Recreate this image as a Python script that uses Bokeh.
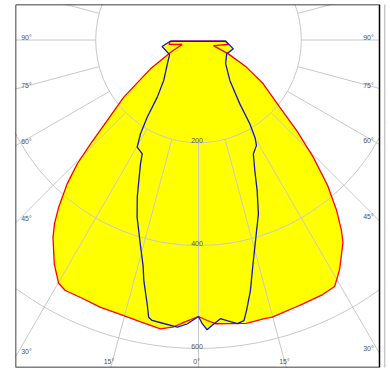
import math
from bokeh.plotting import figure
from bokeh.models import Range1d, ColumnDataSource
from bokeh.core.properties import value
from bokeh.embed import file_html
from bokeh.resources import INLINE

# ---- data: luminous intensity (cd) vs angle (deg, negative = left half) ----
red_angles = [-87.5, -81.4, -74.6, -66.9, -59.0, -52.6, -48.6, -46.1, -44.4, -42.4,
              -39.9, -38.1, -36.4, -32.8, -29.9, -28.0, -24.6, -20.1, -15.9, -11.6,
              -7.5, -4.9, -3.0, 0.0,
              1.8, 3.4, 6.3, 9.6, 13.1, 14.9, 17.3, 19.9, 21.6, 26.0, 28.9, 31.6,
              35.5, 36.9, 39.0, 41.6, 44.4, 47.3, 50.4, 55.9, 60.5, 65.1, 69.5, 81.5, 87.5]
red_cd = [55, 58, 33, 56, 109, 183, 237, 291, 337, 379,
          424, 454, 477, 518, 546, 552, 551, 554, 555, 560,
          567, 560, 550, 538,
          546, 553, 555, 559, 557, 558, 555, 553, 552, 551, 548, 524,
          484, 463, 427, 378, 319, 260, 205, 152, 107, 64, 31, 59, 53]

blue_angles = [-87.5, -79.8, -63.2, -52.7, -40.6, -35.8, -33.6, -31.7, -29.8, -26.3,
               -25.1, -23.0, -21.3, -19.1, -15.8, -13.8, -12.8, -10.9, -10.2, -9.4,
               -7.6, -4.2, -2.3, 0.0,
               0.75, 1.7, 2.7, 4.5, 5.8, 7.8, 9.2, 10.1, 11.7, 13.7, 16.2, 19.0,
               21.3, 23.3, 25.7, 28.8, 30.1, 31.5, 32.9, 37.7, 48.9, 63.8, 75.8, 87.5]
blue_cd = [55, 72, 63, 76, 104, 137, 180, 215, 240, 247,
           266, 297, 328, 365, 415, 452, 480, 526, 548, 553,
           555, 560, 553, 538,
           552, 564, 556, 544, 549, 557, 553, 534, 498, 448, 400, 358,
           314, 277, 246, 234, 219, 191, 148, 100, 70, 61, 70, 53]

ring_values = [200, 400, 600]
ring_labels = ["200", "400", "600"]
spoke_angles = [-105, -90, -75, -60, -45, -30, -15, 0, 15, 30, 45, 60, 75, 90, 105]
side_label_angles = [90, 75, 60, 45, 30]
bottom_label_angles = [-15, 0, 15]


def to_xy(angles, cds):
    xs = [c * math.sin(math.radians(a)) for a, c in zip(angles, cds)]
    ys = [-c * math.cos(math.radians(a)) for a, c in zip(angles, cds)]
    return xs, ys


K = 0.514                   # px per cd
X0, X1 = -356.0, 352.1      # diagram box (cd)
Y0, Y1 = -637.2, 69.1
XR = X1 + 7.0 / K           # frame extends a little past the box on the right

p = figure(width=388, height=370, x_range=Range1d(X0, XR), y_range=Range1d(Y0, Y1),
           output_backend="svg", toolbar_location=None,
           x_axis_type=None, y_axis_type=None,
           min_border_left=15, min_border_right=2, min_border_top=4, min_border_bottom=3)
p.grid.visible = False
p.outline_line_color = None
p.background_fill_color = "white"
p.border_fill_color = "white"

rx, ry = to_xy(red_angles, red_cd)
bx, by = to_xy(blue_angles, blue_cd)

# yellow fill
p.patch(bx, by, fill_color="#ffff00", line_color=None)
p.patch(rx, ry, fill_color="#ffff00", line_color=None)

# grid
grid_col = "#c8c8c8"
p.circle(x=[0] * len(ring_values), y=[0] * len(ring_values), radius=ring_values,
         fill_color=None, line_color=grid_col, line_width=1)
sx0, sy0, sx1, sy1 = [], [], [], []
for a in spoke_angles:
    sx0.append(200 * math.sin(math.radians(a)))
    sy0.append(-200 * math.cos(math.radians(a)))
    ex = min(2000, (X1 if a > 0 else -X0) / max(abs(math.sin(math.radians(a))), 1e-9))
    sx1.append(2000 * math.sin(math.radians(a)))
    sy1.append(-2000 * math.cos(math.radians(a)))
p.segment(sx0, sy0, sx1, sy1, line_color=grid_col, line_width=1)

# white cover right of the diagram box, then the box and the neighbouring edge
p.quad(left=[X1], right=[XR + 50], bottom=[Y0 - 50], top=[Y1 + 50],
       fill_color="white", line_color=None)
p.line([X0, X1, X1, X0, X0], [Y1, Y1, Y0, Y0, Y1], line_color="black", line_width=1.5)
p.line([X1 + 5.3 / K] * 2, [Y0 - 50, Y1 + 50], line_color="#b0b0b0", line_width=1)

# curves
p.line(rx + [rx[0]], ry + [ry[0]], line_color="#ff0000", line_width=1.3)
p.line(bx + [bx[0]], by + [by[0]], line_color="#1414c8", line_width=1.3)

font = value("Liberation Sans")
tcol = "#555555"

# ring labels
p.text(x=[0] * 3, y=[-v for v in ring_values], text=ring_labels, text_font=font,
       text_font_size="7px", text_color=tcol, text_align="center",
       text_baseline="middle", x_offset=-1.5, y_offset=-2.3)

# side labels
for side in (-1, 1):
    xs, ys, txt, yo = [], [], [], []
    xe = X0 if side < 0 else X1
    for a in side_label_angles:
        cot = math.cos(math.radians(a)) / math.sin(math.radians(a))
        xs.append(xe)
        ys.append(-abs(xe) * cot)
        txt.append(f"{a}°")
        yo.append(-(2.8 + 1.5 * cot))
    src = ColumnDataSource(dict(x=xs, y=ys, t=txt, yo=yo))
    p.text(x="x", y="y", text="t", source=src, text_font=font, text_font_size="7px",
           text_color=tcol, text_align="left" if side < 0 else "right",
           text_baseline="middle", x_offset=5.7 * (-side), y_offset="yo")

# bottom labels
bx_l = [-Y0 * math.tan(math.radians(a)) for a in bottom_label_angles]
p.text(x=bx_l, y=[Y0] * len(bx_l), text=[f"{abs(a)}°" for a in bottom_label_angles],
       text_font=font, text_font_size="7px", text_color=tcol, text_align="center",
       text_baseline="middle", x_offset=-1.8, y_offset=-6.3)

open("out.html", "w").write(file_html(p, INLINE))
